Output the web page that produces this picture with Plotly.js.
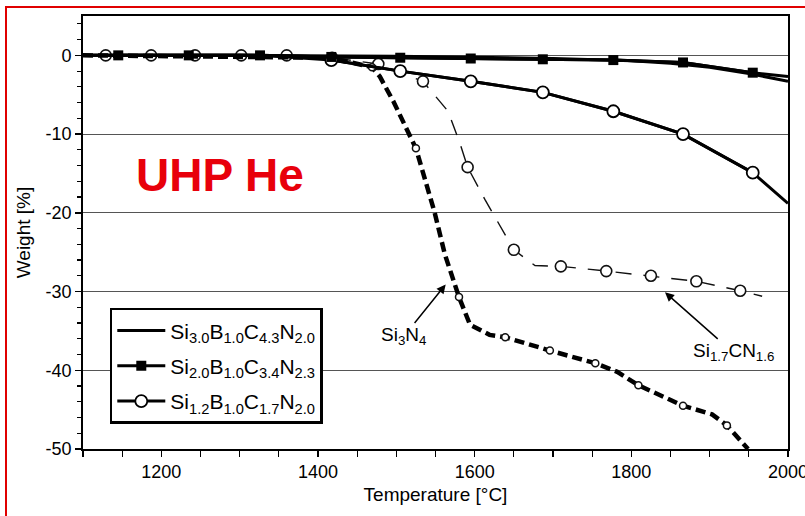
<!DOCTYPE html>
<html>
<head>
<meta charset="utf-8">
<script src="https://cdn.plot.ly/plotly-3.0.1.min.js"></script>
<style>
html,body{margin:0;padding:0;overflow:hidden;background:#fff;}
#frame{position:absolute;left:5px;top:6px;width:830px;height:540px;border:2px solid #e00000;pointer-events:none;z-index:5;}
#chart{position:absolute;left:0;top:0;width:805px;height:516px;}
</style>
</head>
<body>
<div id="chart"></div>
<div id="frame"></div>
<script>
// Si3.0B1.0C4.3N2.0 (solid line)
const s1T = [1100, 1300, 1500, 1700, 1800, 1850, 1900, 1950, 2000];
const s1W = [0, 0, -0.1, -0.4, -0.7, -1.0, -1.5, -2.3, -3.3];

// Si2.0B1.0C3.4N2.3 (filled squares)
const s2T = [1100, 1145, 1235, 1326, 1417, 1505, 1595, 1687, 1777, 1866, 1955, 2000];
const s2W = [0, 0, 0, 0, -0.2, -0.3, -0.4, -0.5, -0.6, -0.9, -2.2, -2.7];
const s2MarkT = [1145, 1235, 1326, 1417, 1505, 1595, 1687, 1777, 1866, 1955];
const s2MarkW = [0, 0, 0, -0.2, -0.3, -0.4, -0.5, -0.6, -0.9, -2.2];

// Si1.2B1.0C1.7N2.0 (open circles)
const s3T = [1100, 1326, 1417, 1505, 1595, 1687, 1777, 1866, 1955, 2000];
const s3W = [0, 0, -0.6, -2.0, -3.3, -4.7, -7.1, -10.0, -14.9, -18.8];
const s3MarkT = [1417, 1505, 1595, 1687, 1777, 1866, 1955];
const s3MarkW = [-0.6, -2.0, -3.3, -4.7, -7.1, -10.0, -14.9];

// Si3N4 (thick dashed)
const si3n4T = [1100, 1415, 1469, 1479, 1496, 1525, 1549, 1562, 1580, 1594, 1619, 1639, 1696, 1754, 1782, 1809, 1866, 1903, 1922, 1949];
const si3n4W = [0, -0.3, -1.5, -2.7, -5.8, -11.8, -20.0, -25.3, -30.7, -34.2, -35.5, -35.8, -37.5, -39.1, -40.2, -41.9, -44.5, -45.6, -47.0, -50.0];
const si3n4MarkT = [1469, 1525, 1580, 1639, 1696, 1754, 1809, 1866, 1922];
const si3n4MarkW = [-1.5, -11.8, -30.7, -35.8, -37.5, -39.1, -41.9, -44.5, -47.0];

// Si1.7CN1.6 (thin dashed, open circles)
const sicnT = [1100, 1129, 1187, 1243, 1302, 1360, 1418, 1477, 1534, 1566, 1581, 1591, 1613, 1630, 1650, 1677, 1710, 1768, 1825, 1883, 1939, 1967];
const sicnW = [0, 0, 0, 0, 0, 0, -0.3, -1.1, -3.3, -7.1, -11.1, -14.2, -18.3, -21.2, -24.7, -26.7, -26.8, -27.4, -28.0, -28.7, -29.9, -30.6];
const sicnMarkT = [1129, 1187, 1243, 1302, 1360, 1418, 1477, 1534, 1591, 1650, 1710, 1768, 1825, 1883, 1939];
const sicnMarkW = [0, 0, 0, 0, 0, -0.3, -1.1, -3.3, -14.2, -24.7, -26.8, -27.4, -28.0, -28.7, -29.9];

const xTickVals = [1200, 1400, 1600, 1800, 2000];
const xTickText = ['1200', '1400', '1600', '1800', '2000'];
const yTickVals = [0, -10, -20, -30, -40, -50];
const yTickText = ['0', '-10', '-20', '-30', '-40', '-50'];

const legendNames = [
  'Si<sub>3.0</sub>B<sub>1.0</sub>C<sub>4.3</sub>N<sub>2.0</sub>',
  'Si<sub>2.0</sub>B<sub>1.0</sub>C<sub>3.4</sub>N<sub>2.3</sub>',
  'Si<sub>1.2</sub>B<sub>1.0</sub>C<sub>1.7</sub>N<sub>2.0</sub>'
];

const FONT = 'Liberation Sans Narrow, Arial Narrow, Liberation Sans, Arial, sans-serif';

const traces = [
  {x: sicnT, y: sicnW, mode: 'lines', line: {color: '#111', width: 1.4, dash: '16px,12px'}, showlegend: false, hoverinfo: 'skip'},
  {x: sicnMarkT, y: sicnMarkW, mode: 'markers', marker: {symbol: 'circle', size: 11, color: '#fff', line: {color: '#111', width: 1.6}}, showlegend: false, hoverinfo: 'skip'},
  {x: si3n4T, y: si3n4W, mode: 'lines', line: {color: '#000', width: 4.5, dash: '10px,5px'}, showlegend: false, hoverinfo: 'skip'},
  {x: si3n4MarkT, y: si3n4MarkW, mode: 'markers', marker: {symbol: 'circle', size: 7, color: '#fff', line: {color: '#111', width: 1.5}}, showlegend: false, hoverinfo: 'skip'},
  {x: s1T, y: s1W, mode: 'lines', name: legendNames[0], legendgroup: 'g1', line: {color: '#000', width: 3}, legendrank: 1},
  {x: s3T, y: s3W, mode: 'lines', line: {color: '#000', width: 3}, showlegend: false, hoverinfo: 'skip'},
  {x: s3MarkT, y: s3MarkW, mode: 'lines+markers', name: legendNames[2], legendgroup: 'g3', line: {color: '#000', width: 3}, marker: {symbol: 'circle', size: 12, color: '#fff', line: {color: '#000', width: 1.8}}, legendrank: 3},
  {x: s2T, y: s2W, mode: 'lines', line: {color: '#000', width: 3}, showlegend: false, hoverinfo: 'skip'},
  {x: s2MarkT, y: s2MarkW, mode: 'lines+markers', name: legendNames[1], legendgroup: 'g2', line: {color: '#000', width: 3}, marker: {symbol: 'square', size: 10, color: '#000'}, legendrank: 2}
];

const layout = {
  width: 805, height: 516,
  margin: {l: 83, r: 17, t: 16, b: 67},
  paper_bgcolor: '#fff', plot_bgcolor: '#fff',
  font: {family: FONT, color: '#000', size: 16},
  showlegend: true,
  legend: {
    x: 0.038, y: 0.326, xanchor: 'left', yanchor: 'top',
    bgcolor: '#fff', bordercolor: '#000', borderwidth: 2.5,
    font: {family: FONT, size: 21, color: '#000'},
    traceorder: 'grouped', tracegroupgap: 5, itemwidth: 48
  },
  xaxis: {
    range: [1100, 2000], tickmode: 'array', tickvals: xTickVals, ticktext: xTickText,
    ticks: 'outside', ticklen: 6, tickwidth: 1.5, tickcolor: '#000', ticklabeloverflow: 'allow',
    minor: {dtick: 50, tick0: 1100, ticks: 'outside', ticklen: 6, tickwidth: 1.2, tickcolor: '#000', showgrid: false},
    showline: true, linecolor: '#000', linewidth: 1.8, mirror: true,
    showgrid: false, zeroline: false,
    tickfont: {family: FONT, size: 18},
    title: {text: 'Temperature [°C]', font: {family: FONT, size: 19}, standoff: 6}
  },
  yaxis: {
    range: [-50, 5], tickmode: 'array', tickvals: yTickVals, ticktext: yTickText,
    ticks: 'outside', ticklen: 6, tickwidth: 1.5, tickcolor: '#000',
    minor: {dtick: 2, tick0: 0, ticks: 'outside', ticklen: 4, tickwidth: 1.2, tickcolor: '#000', showgrid: false},
    showline: true, linecolor: '#000', linewidth: 1.8, mirror: true,
    showgrid: true, gridcolor: '#555', gridwidth: 1, zeroline: false,
    tickfont: {family: FONT, size: 18},
    title: {text: 'Weight [%]', font: {family: FONT, size: 19}, standoff: 10}
  },
  annotations: [
    {xref: 'paper', yref: 'paper', x: 0.194, y: 0.633, xanchor: 'center', yanchor: 'middle', text: '<b>UHP He</b>', showarrow: false,
     font: {family: 'Liberation Sans, Arial, sans-serif', size: 46, color: '#e8000b'}},
    {x: 1563, y: -29.1, xref: 'x', yref: 'y', text: 'Si<sub>3</sub>N<sub>4</sub>', showarrow: true,
     arrowhead: 2, arrowsize: 1.2, arrowwidth: 1.5, arrowcolor: '#000', ax: -42, ay: 52,
     font: {family: FONT, size: 19, color: '#000'}},
    {x: 1843, y: -30.1, xref: 'x', yref: 'y', text: 'Si<sub>1.7</sub>CN<sub>1.6</sub>', showarrow: true,
     arrowhead: 2, arrowsize: 1.2, arrowwidth: 1.5, arrowcolor: '#000', ax: 68, ay: 60,
     font: {family: FONT, size: 19, color: '#000'}}
  ]
};

Plotly.newPlot('chart', traces, layout, {displayModeBar: false, staticPlot: true});
</script>
</body>
</html>
